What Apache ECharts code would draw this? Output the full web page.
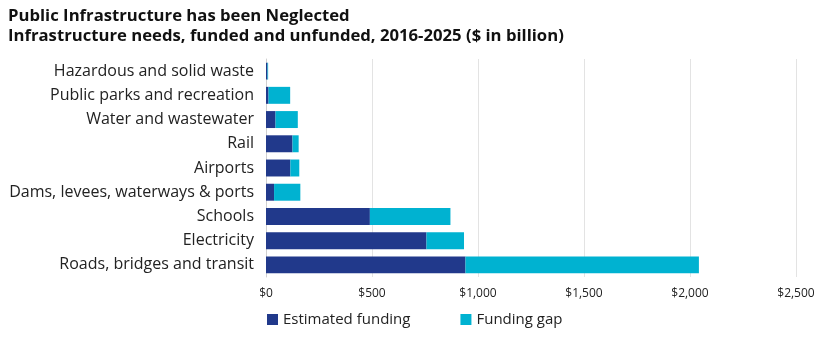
<!DOCTYPE html>
<html><head><meta charset="utf-8">
<script src="https://cdn.jsdelivr.net/npm/echarts@6/dist/echarts.min.js"></script>
<style>html,body{margin:0;padding:0;background:#fff}#c{width:830px;height:337px}</style>
</head><body><div id="c"></div>
<script>
const categories = ["Roads, bridges and transit","Electricity","Schools","Dams, levees, waterways & ports","Airports","Rail","Water and wastewater","Public parks and recreation","Hazardous and solid waste"];
const estimatedFunding = [941, 757, 490, 38, 115, 125, 45, 12, 7];
const fundingGap = [1101, 177, 380, 124, 42, 29, 105, 102, 3];
const xTicks = [0, 500, 1000, 1500, 2000, 2500];
const FONT = "'Open Sans', sans-serif";
const chart = echarts.init(document.getElementById('c'));
chart.setOption({
  animation: false,
  textStyle: {fontFamily: FONT},
  title: {
    text: "Public Infrastructure has been Neglected\nInfrastructure needs, funded and unfunded, 2016-2025 ($ in billion)",
    left: 3, top: 1,
    textStyle: {fontFamily: FONT, fontSize: 16.7, fontWeight: 'bold', color: '#111', lineHeight: 20}
  },
  legend: {
    bottom: 5, left: 262, itemWidth: 11, itemHeight: 11, itemGap: 50,
    icon: 'rect',
    textStyle: {fontFamily: FONT, fontSize: 15, color: '#222'},
    data: ['Estimated funding', 'Funding gap']
  },
  grid: {left: 266, right: 34, top: 59, bottom: 60},
  xAxis: {
    type: 'value', min: xTicks[0], max: xTicks[xTicks.length-1], interval: 500,
    axisLine: {show: false}, axisTick: {show: false},
    splitLine: {lineStyle: {color: '#e3e3e3'}},
    axisLabel: {fontFamily: FONT, fontSize: 12, color: '#222', margin: 11,
      formatter: v => '$' + v.toLocaleString('en-US')}
  },
  yAxis: {
    type: 'category', data: categories,
    axisLine: {show: true, lineStyle: {color: '#d0d0d0'}}, axisTick: {show: false},
    axisLabel: {fontFamily: FONT, fontSize: 16, color: '#222', margin: 12}
  },
  series: [
    {name: 'Estimated funding', type: 'bar', stack: 't', data: estimatedFunding, barWidth: '70%', itemStyle: {color: '#21398B'}},
    {name: 'Funding gap', type: 'bar', stack: 't', data: fundingGap, barWidth: '70%', itemStyle: {color: '#00B2D1'}}
  ]
});
</script></body></html>
